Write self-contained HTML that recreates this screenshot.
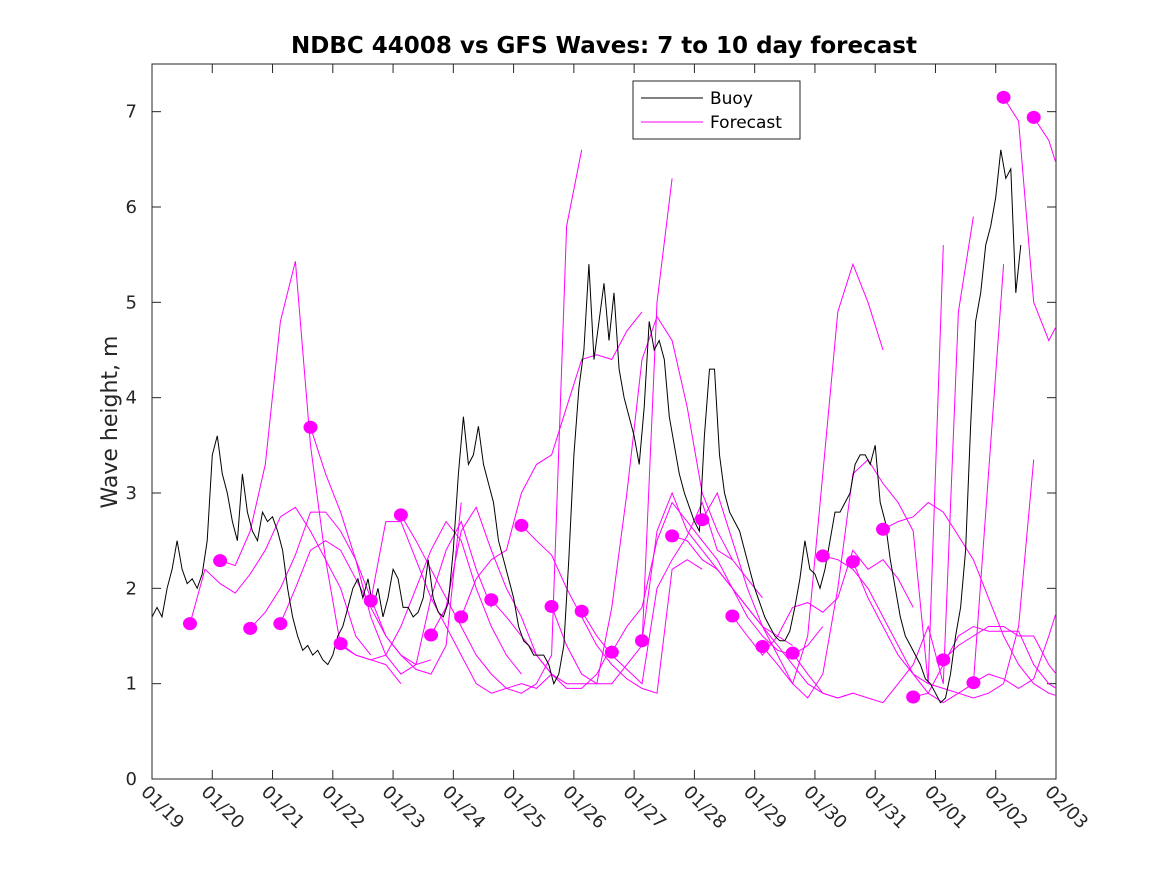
<!DOCTYPE html>
<html><head><meta charset="utf-8"><style>
body{margin:0;background:#fff}
svg{display:block;font-family:"DejaVu Sans","Liberation Sans",sans-serif}
</style></head><body>
<svg id="chart" width="1167" height="875" viewBox="0 0 1167 875" xmlns="http://www.w3.org/2000/svg">
<rect width="1167" height="875" fill="#fff"/>
<defs><clipPath id="pc"><rect x="152" y="64" width="904" height="715"/></clipPath></defs>
<text x="604" y="53" text-anchor="middle" font-size="23" font-weight="bold" fill="#000">NDBC 44008 vs GFS Waves: 7 to 10 day forecast</text>
<text transform="translate(117,422) rotate(-90)" text-anchor="middle" font-size="22" fill="#262626">Wave height, m</text>
<g id="axes"></g>
<g id="series" clip-path="url(#pc)"></g>
<g id="dots" clip-path="url(#pc)"></g>
<g>
<rect x="633" y="81" width="167" height="58" fill="#fff" stroke="#262626" stroke-width="1"/>
<line x1="641" y1="98" x2="703" y2="98" stroke="#000" stroke-width="1"/>
<text x="710" y="104" font-size="17" fill="#000">Buoy</text>
<line x1="641" y1="122" x2="703" y2="122" stroke="#ff00ff" stroke-width="1"/>
<text x="710" y="128" font-size="17" fill="#000">Forecast</text>
</g>
</svg>
<script>
const xTickLabels=["01/19","01/20","01/21","01/22","01/23","01/24","01/25","01/26","01/27","01/28","01/29","01/30","01/31","02/01","02/02","02/03"];
const yTicks=[0,1,2,3,4,5,6,7];
const buoyStepDays=1/12;
const buoyVals=[1.7,1.8,1.7,2.0,2.2,2.5,2.2,2.05,2.1,2.0,2.15,2.5,3.4,3.6,3.2,3.0,2.7,2.5,3.2,2.8,2.6,2.5,2.8,2.7,2.75,2.6,2.4,2.0,1.7,1.5,1.35,1.4,1.3,1.35,1.25,1.2,1.3,1.5,1.6,1.8,2.0,2.1,1.9,2.1,1.8,2.0,1.7,1.9,2.2,2.1,1.8,1.8,1.7,1.75,1.9,2.3,1.9,1.75,1.7,1.85,2.4,3.2,3.8,3.3,3.4,3.7,3.3,3.1,2.9,2.5,2.3,2.1,1.9,1.6,1.45,1.4,1.3,1.3,1.3,1.2,1.0,1.1,1.4,2.3,3.4,4.1,4.5,5.4,4.4,4.8,5.2,4.6,5.1,4.3,4.0,3.8,3.6,3.3,3.9,4.8,4.5,4.6,4.4,3.8,3.5,3.2,3.0,2.85,2.7,2.6,3.6,4.3,4.3,3.4,3.0,2.8,2.7,2.6,2.4,2.2,2.0,1.85,1.7,1.6,1.5,1.45,1.45,1.55,1.8,2.1,2.5,2.2,2.15,2.0,2.2,2.5,2.8,2.8,2.9,3.0,3.3,3.4,3.4,3.3,3.5,2.9,2.7,2.3,2.0,1.7,1.5,1.4,1.3,1.2,1.05,1.0,0.9,0.8,0.85,1.1,1.5,1.8,2.4,3.7,4.8,5.1,5.6,5.8,6.1,6.6,6.3,6.4,5.1,5.6];
const fcStartDays=[0.63,1.13,1.63,2.13,2.63,3.13,3.63,4.13,4.63,5.13,5.63,6.13,6.63,7.13,7.63,8.13,8.63,9.13,9.63,10.13,10.63,11.13,11.63,12.13,12.63,13.13,13.63,14.13,14.63];
const fcStepDays=0.25;
const fc0=[1.63,2.2,2.05,1.95,2.15,2.4,2.75,2.85,2.6,2.3,2.0,1.5,1.3];
const fc1=[2.29,2.24,2.6,3.3,4.8,5.43,3.5,2.3,1.4,1.3,1.25,1.2,1.0];
const fc2=[1.58,1.75,2.0,2.35,2.8,2.8,2.6,2.3,1.9,1.5,1.3,1.2,1.25];
const fc3=[1.63,2.0,2.4,2.5,2.4,2.1,1.8,1.5,1.3,1.15,1.1,1.4,2.9];
const fc4=[3.69,3.2,2.8,2.3,1.7,1.3,1.1,1.2,1.9,2.4,2.7,2.2,1.8];
const fc5=[1.42,1.3,1.25,1.3,1.6,2.0,2.4,2.7,2.5,2.0,1.6,1.3,1.1];
const fc6=[1.87,2.7,2.7,2.3,1.9,1.6,1.3,1.0,0.9,0.95,1.0,0.95,1.1];
const fc7=[2.77,2.5,2.2,1.9,1.6,1.3,1.1,0.95,0.9,1.0,1.3,5.8,6.6];
const fc8=[1.51,1.8,2.6,2.85,2.4,2.0,1.7,1.3,1.1,0.95,0.95,1.1,1.4];
const fc9=[1.70,2.1,2.3,2.4,3.0,3.3,3.4,3.9,4.4,4.45,4.4,4.7,4.9];
const fc10=[1.88,1.7,1.5,1.3,1.1,1.0,1.0,1.0,1.0,1.2,1.4,5.0,6.3];
const fc11=[2.66,2.5,2.35,2.0,1.7,1.4,1.2,1.05,0.95,0.9,2.2,2.3,2.2];
const fc12=[1.81,1.4,1.1,1.0,1.8,3.0,4.4,4.85,4.6,3.9,3.0,2.6,2.3];
const fc13=[1.76,1.5,1.3,1.15,1.0,2.0,2.3,2.55,2.9,2.4,2.3,2.1,1.9];
const fc14=[1.33,1.6,1.8,2.5,2.9,2.7,2.5,2.3,2.0,1.8,1.6,1.5,1.4];
const fc15=[1.45,2.6,3.0,2.6,2.4,2.2,2.0,1.7,1.5,1.35,1.3,1.4,1.6];
const fc16=[2.55,2.5,2.3,2.2,2.0,1.8,1.6,1.4,1.2,1.0,0.9,0.85,0.9];
const fc17=[2.72,3.0,2.5,2.0,1.6,1.3,1.0,1.5,3.2,4.9,5.4,5.0,4.5];
const fc18=[1.71,1.5,1.3,1.5,1.8,1.85,1.75,1.9,2.4,2.2,2.3,2.1,1.8];
const fc19=[1.39,1.2,1.0,0.85,1.1,2.0,3.2,3.35,3.1,2.9,2.6,1.0,5.6];
const fc20=[1.32,1.1,0.9,0.85,0.9,0.85,0.8,1.0,1.2,1.6,1.0,4.9,5.9];
const fc21=[2.34,2.3,2.2,2.0,1.7,1.4,1.1,0.9,0.8,0.9,1.0,3.2,5.4];
const fc22=[2.28,1.9,1.6,1.3,1.1,1.0,0.95,0.9,0.85,0.9,1.0,1.6,3.35];
const fc23=[2.62,2.7,2.75,2.9,2.8,2.55,2.3,1.9,1.5,1.2,1.0,0.9,0.85];
const fc24=[0.86,0.9,1.2,1.5,1.6,1.55,1.55,1.55,1.2,1.0,0.9,0.8,0.75];
const fc25=[1.25,1.4,1.5,1.6,1.6,1.5,1.5,1.2,1.0,0.85,0.75,0.65,0.62];
const fc26=[1.01,1.1,1.05,0.95,1.05,1.5,2.0,2.15,2.2,2.2,2.2,2.2,2.2];
const fc27=[7.15,6.9,5.0,4.6,4.9,4.95,4.9,4.9,4.9,4.9,4.9,4.9,4.9];
const fc28=[6.94,6.7,6.2,5.7,5.2,5.0,5.0,5.0,5.0,5.0,5.0,5.0,5.0];
const forecasts=[fc0,fc1,fc2,fc3,fc4,fc5,fc6,fc7,fc8,fc9,fc10,fc11,fc12,fc13,fc14,fc15,fc16,fc17,fc18,fc19,fc20,fc21,fc22,fc23,fc24,fc25,fc26,fc27,fc28];

const NS="http://www.w3.org/2000/svg";
const X0=152,X1=1056,Y0=779,Y1=64,DAYS=15,YMAX=7.5;
function xs(d){return X0+(X1-X0)*d/DAYS;}
function ys(v){return Y0-(Y0-Y1)*v/YMAX;}
function mk(tag,attrs,parent){const e=document.createElementNS(NS,tag);for(const k in attrs)e.setAttribute(k,attrs[k]);parent.appendChild(e);return e;}
const axes=document.getElementById('axes'),series=document.getElementById('series'),dots=document.getElementById('dots');
const box=mk('rect',{x:X0,y:Y1,width:X1-X0,height:Y0-Y1,fill:'none',stroke:'#262626','stroke-width':1},axes);


xTickLabels.forEach((lab,i)=>{
  const x=xs(i);
  mk('line',{x1:x,y1:Y0,x2:x,y2:Y0-9,stroke:'#262626'},axes);
  mk('line',{x1:x,y1:Y1,x2:x,y2:Y1+9,stroke:'#262626'},axes);
  const t=mk('text',{x:0,y:0,transform:`translate(${x-12},${Y0+14}) rotate(45)`,'font-size':18,fill:'#262626'},axes);
  t.textContent=lab;
  
  
});
yTicks.forEach(v=>{
  const y=ys(v);
  mk('line',{x1:X0,y1:y,x2:X0+9,y2:y,stroke:'#262626'},axes);
  mk('line',{x1:X1,y1:y,x2:X1-9,y2:y,stroke:'#262626'},axes);
  const t=mk('text',{x:X0-15,y:y+6,'text-anchor':'end','font-size':18,fill:'#262626'},axes);
  t.textContent=v;
  
  
});
forecasts.forEach((arr,i)=>{
  const pts=arr.map((v,j)=>xs(fcStartDays[i]+j*fcStepDays).toFixed(1)+','+ys(v).toFixed(1)).join(' ');
  const p=mk('polyline',{points:pts,fill:'none',stroke:'#ff00ff','stroke-width':1},series);
  
  
});
const bpts=buoyVals.map((v,j)=>xs(j*buoyStepDays).toFixed(1)+','+ys(v).toFixed(1)).join(' ');
const bl=mk('polyline',{points:bpts,fill:'none',stroke:'#000','stroke-width':1},series);


forecasts.forEach((arr,i)=>{
  const c=mk('ellipse',{cx:xs(fcStartDays[i]),cy:ys(arr[0]),rx:7,ry:6.5,fill:'#ff00ff'},dots);
  
  
});
</script>
</body></html>
